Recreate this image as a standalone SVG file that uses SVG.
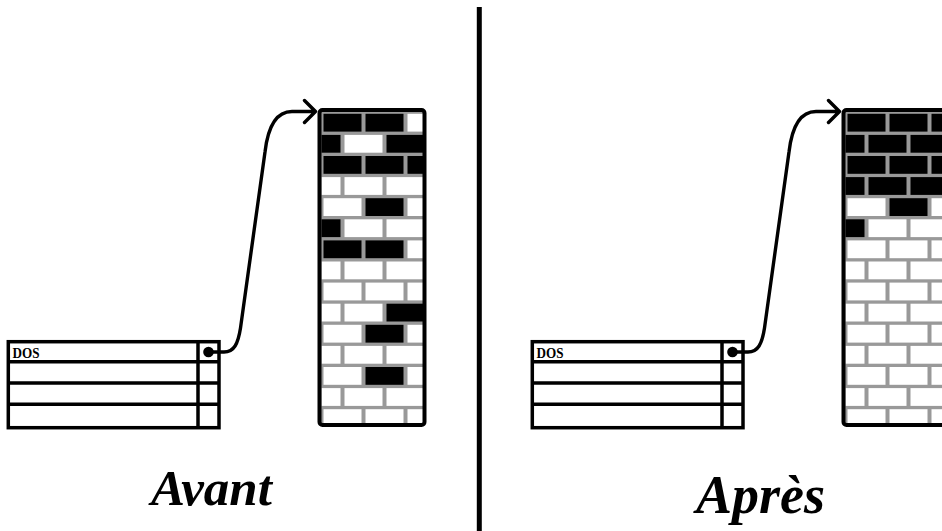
<svg xmlns="http://www.w3.org/2000/svg" width="942" height="531" viewBox="0 0 942 531">
<style>
.m{fill:#999999}
.k{fill:#000000}
.w{fill:#ffffff}
.frame{fill:none;stroke:#000;stroke-width:4}
.tbl{fill:#fff;stroke:#000;stroke-width:3.5}
.tl{stroke:#000;stroke-width:3.5;fill:none}
.lbl{font-family:"Liberation Serif","DejaVu Serif",serif;font-weight:bold;font-size:14px;fill:#000}
.cap{font-family:"Liberation Serif","DejaVu Serif",serif;font-style:italic;font-weight:bold;fill:#000}
.con{fill:none;stroke:#000;stroke-width:3.4;stroke-linecap:round;stroke-linejoin:round}
</style>
<rect x="0" y="0" width="942" height="531" fill="#fff"/>
<line id="divider" x1="479.3" y1="7" x2="479.3" y2="531" stroke="#000" stroke-width="5"/>

<g id="table-before">
<rect class="tbl" x="8.3" y="341.7" width="210.7" height="86"/>
<path class="tl" d="M8.3 361.7H219M8.3 383H219M8.3 404.3H219M198 341.7V427.7"/>
<text class="lbl" x="12.5" y="357.5" textLength="27" lengthAdjust="spacingAndGlyphs">DOS</text>
<circle cx="208.5" cy="352" r="5.3"/>
</g>

<g id="disk-before">
<rect class="m" x="321" y="111" width="102" height="313"/>
<rect class="k" x="323.5" y="113.8" width="38" height="17.8"/><rect class="k" x="365.5" y="113.8" width="38" height="17.8"/><rect class="w" x="407.5" y="113.8" width="15.5" height="17.8"/>
<rect class="k" x="321.5" y="134.9" width="19" height="17.8"/><rect class="w" x="344.5" y="134.9" width="38" height="17.8"/><rect class="k" x="386.5" y="134.9" width="36.5" height="17.8"/>
<rect class="k" x="323.5" y="156" width="38" height="17.8"/><rect class="k" x="365.5" y="156" width="38" height="17.8"/><rect class="k" x="407.5" y="156" width="15.5" height="17.8"/>
<rect class="w" x="321.5" y="177.1" width="19" height="17.8"/><rect class="w" x="344.5" y="177.1" width="38" height="17.8"/><rect class="w" x="386.5" y="177.1" width="36.5" height="17.8"/>
<rect class="w" x="323.5" y="198.2" width="38" height="17.8"/><rect class="k" x="365.5" y="198.2" width="38" height="17.8"/><rect class="w" x="407.5" y="198.2" width="15.5" height="17.8"/>
<rect class="k" x="321.5" y="219.3" width="19" height="17.8"/><rect class="w" x="344.5" y="219.3" width="38" height="17.8"/><rect class="w" x="386.5" y="219.3" width="36.5" height="17.8"/>
<rect class="k" x="323.5" y="240.4" width="38" height="17.8"/><rect class="k" x="365.5" y="240.4" width="38" height="17.8"/><rect class="w" x="407.5" y="240.4" width="15.5" height="17.8"/>
<rect class="w" x="321.5" y="261.5" width="19" height="17.8"/><rect class="w" x="344.5" y="261.5" width="38" height="17.8"/><rect class="w" x="386.5" y="261.5" width="36.5" height="17.8"/>
<rect class="w" x="323.5" y="282.6" width="38" height="17.8"/><rect class="w" x="365.5" y="282.6" width="38" height="17.8"/><rect class="w" x="407.5" y="282.6" width="15.5" height="17.8"/>
<rect class="w" x="321.5" y="303.7" width="19" height="17.8"/><rect class="w" x="344.5" y="303.7" width="38" height="17.8"/><rect class="k" x="386.5" y="303.7" width="36.5" height="17.8"/>
<rect class="w" x="323.5" y="324.8" width="38" height="17.8"/><rect class="k" x="365.5" y="324.8" width="38" height="17.8"/><rect class="w" x="407.5" y="324.8" width="15.5" height="17.8"/>
<rect class="w" x="321.5" y="345.9" width="19" height="17.8"/><rect class="w" x="344.5" y="345.9" width="38" height="17.8"/><rect class="w" x="386.5" y="345.9" width="36.5" height="17.8"/>
<rect class="w" x="323.5" y="367" width="38" height="17.8"/><rect class="k" x="365.5" y="367" width="38" height="17.8"/><rect class="w" x="407.5" y="367" width="15.5" height="17.8"/>
<rect class="w" x="321.5" y="388.1" width="19" height="17.8"/><rect class="w" x="344.5" y="388.1" width="38" height="17.8"/><rect class="w" x="386.5" y="388.1" width="36.5" height="17.8"/>
<rect class="w" x="323.5" y="409.2" width="38" height="14.5"/><rect class="w" x="365.5" y="409.2" width="38" height="14.5"/><rect class="w" x="407.5" y="409.2" width="15.5" height="14.5"/>
<rect class="frame" x="319.5" y="110" width="105" height="315" rx="3"/>
</g>

<g id="table-after">
<rect class="tbl" x="532.3" y="341.7" width="210.7" height="86"/>
<path class="tl" d="M532.3 361.7H743M532.3 383H743M532.3 404.3H743M722 341.7V427.7"/>
<text class="lbl" x="536.5" y="357.5" textLength="27" lengthAdjust="spacingAndGlyphs">DOS</text>
<circle cx="732.5" cy="352" r="5.3"/>
</g>

<g id="disk-after">
<rect class="m" x="845" y="111" width="100" height="313"/>
<rect class="k" x="847.5" y="113.8" width="38" height="17.8"/><rect class="k" x="889.5" y="113.8" width="38" height="17.8"/><rect class="k" x="931.5" y="113.8" width="38" height="17.8"/>
<rect class="k" x="845.5" y="134.9" width="19" height="17.8"/><rect class="k" x="868.5" y="134.9" width="38" height="17.8"/><rect class="k" x="910.5" y="134.9" width="38" height="17.8"/>
<rect class="k" x="847.5" y="156" width="38" height="17.8"/><rect class="k" x="889.5" y="156" width="38" height="17.8"/><rect class="k" x="931.5" y="156" width="38" height="17.8"/>
<rect class="k" x="845.5" y="177.1" width="19" height="17.8"/><rect class="k" x="868.5" y="177.1" width="38" height="17.8"/><rect class="k" x="910.5" y="177.1" width="38" height="17.8"/>
<rect class="w" x="847.5" y="198.2" width="38" height="17.8"/><rect class="k" x="889.5" y="198.2" width="38" height="17.8"/><rect class="w" x="931.5" y="198.2" width="38" height="17.8"/>
<rect class="k" x="845.5" y="219.3" width="19" height="17.8"/><rect class="w" x="868.5" y="219.3" width="38" height="17.8"/><rect class="w" x="910.5" y="219.3" width="38" height="17.8"/>
<rect class="w" x="847.5" y="240.4" width="38" height="17.8"/><rect class="w" x="889.5" y="240.4" width="38" height="17.8"/><rect class="w" x="931.5" y="240.4" width="38" height="17.8"/>
<rect class="w" x="845.5" y="261.5" width="19" height="17.8"/><rect class="w" x="868.5" y="261.5" width="38" height="17.8"/><rect class="w" x="910.5" y="261.5" width="38" height="17.8"/>
<rect class="w" x="847.5" y="282.6" width="38" height="17.8"/><rect class="w" x="889.5" y="282.6" width="38" height="17.8"/><rect class="w" x="931.5" y="282.6" width="38" height="17.8"/>
<rect class="w" x="845.5" y="303.7" width="19" height="17.8"/><rect class="w" x="868.5" y="303.7" width="38" height="17.8"/><rect class="w" x="910.5" y="303.7" width="38" height="17.8"/>
<rect class="w" x="847.5" y="324.8" width="38" height="17.8"/><rect class="w" x="889.5" y="324.8" width="38" height="17.8"/><rect class="w" x="931.5" y="324.8" width="38" height="17.8"/>
<rect class="w" x="845.5" y="345.9" width="19" height="17.8"/><rect class="w" x="868.5" y="345.9" width="38" height="17.8"/><rect class="w" x="910.5" y="345.9" width="38" height="17.8"/>
<rect class="w" x="847.5" y="367" width="38" height="17.8"/><rect class="w" x="889.5" y="367" width="38" height="17.8"/><rect class="w" x="931.5" y="367" width="38" height="17.8"/>
<rect class="w" x="845.5" y="388.1" width="19" height="17.8"/><rect class="w" x="868.5" y="388.1" width="38" height="17.8"/><rect class="w" x="910.5" y="388.1" width="38" height="17.8"/>
<rect class="w" x="847.5" y="409.2" width="38" height="14.5"/><rect class="w" x="889.5" y="409.2" width="38" height="14.5"/><rect class="w" x="931.5" y="409.2" width="38" height="14.5"/>
<rect class="frame" x="843.5" y="110" width="120" height="315" rx="3"/>
</g>

<g id="connectors">
<path class="con" d="M208.5 352H224C234 352 238 344 240.5 328L265 152C268 126 276 111.5 292 111.5H315M304.5 100.5L315.5 111.5L304.5 122.5"/>
<path class="con" d="M732.5 352H748C758 352 762 344 764.5 328L789 152C792 126 800 111.5 816 111.5H839M828.5 100.5L839.5 111.5L828.5 122.5"/>
</g>

<text id="label-before" class="cap" x="151" y="505" font-size="51">Avant</text>
<text id="label-after" class="cap" x="696" y="513" font-size="54">Après</text>
</svg>
